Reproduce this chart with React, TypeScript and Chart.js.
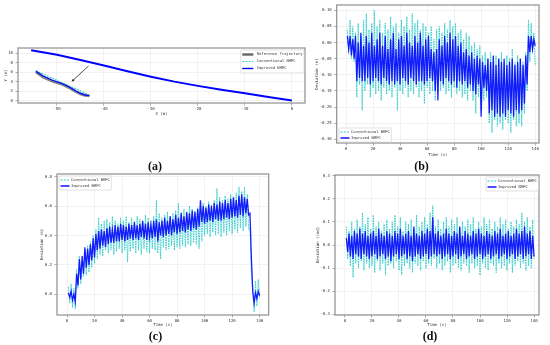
import React, { useEffect, useRef } from "react";
import { Chart, registerables } from "chart.js";
Chart.register(...registerables);

// ---------------- data ----------------
// (a) trajectory
const trajX = [-55.5, -50, -45, -40, -35, -30, -25, -20, -15, -10, -5, 0];
const trajImpY = [10.65, 9.7, 8.6, 7.4, 6.2, 5.05, 4.0, 3.1, 2.3, 1.52, 0.76, 0.0];
const insetX = [-54.5, -53, -51, -49, -47.5, -46, -45, -44, -43.1];
const insetRefY = [6.1, 5.0, 4.1, 3.5, 2.8, 1.9, 1.4, 1.1, 1.0];
const insetImpY = [6.2, 5.2, 4.3, 3.6, 2.9, 2.0, 1.5, 1.15, 1.0];
const insetConvX = [-54.5, -43.2];
const insetConvY = [6.3, 1.2];
const arrowX = [-43.3, -46.9];
const arrowY = [7.3, 4.0];
const aTicksX = [-50, -40, -30, -20, -10, 0];
const aTicksY = [0, 2, 4, 6, 8, 10];

// time samples (s)
const ts = [1, 3, 5, 7, 9, 11, 13, 15, 17, 19, 21, 23, 25, 27, 29, 31, 33, 35, 37, 39, 41, 43, 45, 47, 49, 51, 53, 55, 57, 59, 61, 63, 65, 67, 69, 71, 73, 75, 77, 79, 81, 83, 85, 87, 89, 91, 93, 95, 97, 99, 101, 103, 105, 107, 109, 111, 113, 115, 117, 119, 121, 123, 125, 127, 129, 131, 133, 135, 137, 139];
const timeTicks = [0, 20, 40, 60, 80, 100, 120, 140];

// (b) lateral deviation (m)
const bImpHi = [0.02, 0.02, 0.01, 0.02, 0.0, 0.03, -0.01, 0.02, 0.0, 0.03, -0.01, 0.01, 0.03, -0.01, 0.02, -0.02, 0.01, 0.03, -0.02, 0.01, 0.02, -0.01, 0.03, 0.0, -0.01, 0.02, 0.0, 0.03, -0.01, 0.01, 0.02, -0.02, -0.03, -0.02, 0.01, -0.01, 0.02, 0.0, 0.03, 0.01, 0.02, -0.01, 0.0, -0.03, -0.02, -0.04, -0.03, -0.05, -0.04, -0.05, -0.06, -0.07, -0.05, -0.06, -0.04, -0.07, -0.05, -0.06, -0.05, -0.07, -0.06, -0.05, -0.07, -0.06, -0.05, -0.07, -0.04, 0.02, 0.02, 0.01];
const bImpLo = [-0.02, -0.04, -0.05, -0.12, -0.11, -0.12, -0.12, -0.11, -0.13, -0.12, -0.11, -0.12, -0.13, -0.11, -0.12, -0.13, -0.12, -0.13, -0.12, -0.13, -0.11, -0.12, -0.13, -0.11, -0.12, -0.13, -0.12, -0.12, -0.13, -0.12, -0.11, -0.12, -0.15, -0.18, -0.12, -0.13, -0.11, -0.12, -0.13, -0.12, -0.14, -0.12, -0.13, -0.12, -0.14, -0.13, -0.15, -0.16, -0.13, -0.23, -0.14, -0.15, -0.22, -0.21, -0.23, -0.22, -0.23, -0.22, -0.23, -0.21, -0.22, -0.23, -0.21, -0.22, -0.21, -0.19, -0.13, -0.03, -0.02, -0.01];
const bConvHi = [0.04, 0.07, 0.05, 0.03, 0.06, 0.02, 0.07, 0.09, 0.04, 0.06, 0.10, 0.05, 0.07, 0.03, 0.06, 0.04, 0.08, 0.05, 0.06, 0.03, 0.07, 0.05, 0.08, 0.04, 0.09, 0.06, 0.07, 0.04, 0.06, 0.05, 0.03, 0.05, 0.01, 0.04, 0.05, 0.03, 0.06, 0.04, 0.07, 0.05, 0.06, 0.03, 0.04, 0.01, 0.03, 0.02, -0.01, 0.0, -0.02, -0.01, -0.04, -0.03, -0.05, -0.03, -0.06, -0.04, -0.05, -0.03, -0.06, -0.04, -0.05, -0.02, -0.06, -0.04, -0.05, -0.06, -0.03, 0.07, 0.06, 0.03];
const bConvLo = [-0.03, -0.05, -0.06, -0.17, -0.13, -0.21, -0.15, -0.13, -0.17, -0.14, -0.16, -0.15, -0.18, -0.14, -0.16, -0.15, -0.17, -0.14, -0.21, -0.15, -0.16, -0.14, -0.17, -0.15, -0.16, -0.14, -0.17, -0.15, -0.19, -0.14, -0.16, -0.15, -0.18, -0.13, -0.15, -0.14, -0.16, -0.15, -0.17, -0.14, -0.16, -0.15, -0.17, -0.16, -0.18, -0.15, -0.18, -0.22, -0.17, -0.21, -0.18, -0.17, -0.25, -0.28, -0.24, -0.26, -0.25, -0.27, -0.24, -0.25, -0.28, -0.24, -0.26, -0.25, -0.26, -0.22, -0.15, -0.06, -0.03, -0.07];
const bTicksY = [-0.3, -0.25, -0.2, -0.15, -0.1, -0.05, 0, 0.05, 0.1];

// (c) longitudinal deviation (m)
const cImpHi = [0.01, 0.02, 0.0, 0.14, 0.24, 0.26, 0.32, 0.31, 0.34, 0.38, 0.41, 0.43, 0.44, 0.43, 0.45, 0.46, 0.44, 0.47, 0.46, 0.48, 0.47, 0.46, 0.48, 0.47, 0.49, 0.47, 0.48, 0.50, 0.48, 0.49, 0.47, 0.50, 0.51, 0.49, 0.50, 0.52, 0.50, 0.53, 0.51, 0.54, 0.52, 0.55, 0.53, 0.56, 0.55, 0.57, 0.56, 0.58, 0.64, 0.60, 0.59, 0.61, 0.60, 0.62, 0.61, 0.63, 0.62, 0.64, 0.62, 0.65, 0.66, 0.64, 0.67, 0.68, 0.66, 0.65, 0.55, 0.02, 0.01, 0.02];
const cImpLo = [-0.02, -0.04, -0.05, 0.06, 0.10, 0.14, 0.18, 0.20, 0.23, 0.25, 0.30, 0.31, 0.33, 0.32, 0.34, 0.35, 0.35, 0.36, 0.36, 0.37, 0.36, 0.37, 0.38, 0.37, 0.38, 0.37, 0.39, 0.38, 0.37, 0.39, 0.38, 0.39, 0.36, 0.40, 0.39, 0.40, 0.41, 0.40, 0.42, 0.41, 0.42, 0.43, 0.42, 0.44, 0.43, 0.45, 0.44, 0.46, 0.49, 0.48, 0.49, 0.50, 0.49, 0.51, 0.50, 0.50, 0.51, 0.52, 0.51, 0.52, 0.53, 0.52, 0.54, 0.53, 0.55, 0.54, 0.25, -0.06, -0.03, -0.01];
const cConvHi = [0.05, 0.07, 0.04, 0.17, 0.26, 0.22, 0.30, 0.33, 0.36, 0.40, 0.44, 0.52, 0.48, 0.50, 0.51, 0.49, 0.53, 0.50, 0.48, 0.52, 0.50, 0.53, 0.49, 0.52, 0.50, 0.53, 0.51, 0.49, 0.54, 0.52, 0.50, 0.53, 0.64, 0.55, 0.52, 0.54, 0.56, 0.53, 0.55, 0.57, 0.62, 0.56, 0.58, 0.55, 0.60, 0.58, 0.57, 0.59, 0.58, 0.62, 0.60, 0.63, 0.61, 0.64, 0.72, 0.66, 0.64, 0.67, 0.65, 0.68, 0.66, 0.69, 0.73, 0.70, 0.73, 0.68, 0.45, 0.03, 0.09, 0.10];
const cConvLo = [-0.06, -0.09, -0.10, 0.04, 0.07, 0.12, 0.13, 0.15, 0.18, 0.21, 0.24, 0.27, 0.26, 0.30, 0.28, 0.30, 0.27, 0.29, 0.31, 0.28, 0.30, 0.22, 0.29, 0.31, 0.28, 0.30, 0.27, 0.31, 0.29, 0.28, 0.31, 0.30, 0.28, 0.24, 0.32, 0.30, 0.31, 0.33, 0.30, 0.32, 0.31, 0.33, 0.32, 0.34, 0.33, 0.35, 0.34, 0.31, 0.36, 0.40, 0.41, 0.39, 0.42, 0.40, 0.41, 0.39, 0.42, 0.40, 0.43, 0.41, 0.44, 0.42, 0.45, 0.43, 0.46, 0.44, 0.15, -0.12, -0.08, -0.02];
const cTicksY = [0, 0.2, 0.4, 0.6, 0.8];

// (d) heading deviation (rad)
const dImpHi = [0.03, 0.05, 0.04, 0.06, 0.05, 0.07, 0.05, 0.06, 0.04, 0.05, 0.06, 0.04, 0.07, 0.05, 0.04, 0.06, 0.05, 0.04, 0.06, 0.05, 0.07, 0.04, 0.05, 0.06, 0.04, 0.08, 0.05, 0.04, 0.06, 0.05, 0.07, 0.06, 0.12, 0.05, 0.06, 0.04, 0.05, 0.07, 0.05, 0.04, 0.06, 0.05, 0.08, 0.04, 0.06, 0.05, 0.04, 0.06, 0.05, 0.07, 0.05, 0.04, 0.06, 0.05, 0.04, 0.06, 0.05, 0.07, 0.04, 0.05, 0.06, 0.04, 0.05, 0.07, 0.05, 0.06, 0.08, 0.05, 0.06, 0.04];
const dImpLo = [-0.03, -0.05, -0.06, -0.04, -0.05, -0.06, -0.04, -0.05, -0.06, -0.05, -0.04, -0.06, -0.05, -0.04, -0.06, -0.05, -0.07, -0.05, -0.04, -0.06, -0.05, -0.04, -0.06, -0.05, -0.07, -0.05, -0.04, -0.06, -0.05, -0.04, -0.06, -0.05, -0.04, -0.05, -0.04, -0.06, -0.05, -0.04, -0.06, -0.05, -0.04, -0.06, -0.05, -0.04, -0.06, -0.05, -0.04, -0.06, -0.05, -0.04, -0.06, -0.05, -0.04, -0.06, -0.05, -0.04, -0.06, -0.05, -0.04, -0.06, -0.05, -0.04, -0.06, -0.05, -0.04, -0.06, -0.05, -0.04, -0.06, -0.05];
const dConvHi = [0.08, 0.06, 0.10, 0.07, 0.11, 0.08, 0.14, 0.09, 0.12, 0.07, 0.13, 0.08, 0.10, 0.06, 0.09, 0.11, 0.07, 0.10, 0.13, 0.08, 0.12, 0.06, 0.10, 0.09, 0.11, 0.07, 0.13, 0.08, 0.10, 0.12, 0.09, 0.14, 0.17, 0.08, 0.11, 0.07, 0.10, 0.12, 0.08, 0.11, 0.09, 0.12, 0.07, 0.10, 0.08, 0.11, 0.09, 0.12, 0.07, 0.10, 0.08, 0.12, 0.09, 0.11, 0.07, 0.10, 0.08, 0.12, 0.09, 0.11, 0.07, 0.10, 0.08, 0.11, 0.09, 0.14, 0.10, 0.12, 0.08, 0.11];
const dConvLo = [-0.06, -0.09, -0.14, -0.08, -0.10, -0.07, -0.11, -0.08, -0.10, -0.09, -0.12, -0.07, -0.11, -0.08, -0.13, -0.09, -0.08, -0.10, -0.07, -0.11, -0.13, -0.09, -0.08, -0.10, -0.12, -0.08, -0.09, -0.11, -0.07, -0.10, -0.08, -0.09, -0.06, -0.10, -0.08, -0.11, -0.09, -0.07, -0.12, -0.09, -0.08, -0.10, -0.11, -0.08, -0.09, -0.12, -0.08, -0.10, -0.09, -0.13, -0.08, -0.10, -0.11, -0.08, -0.09, -0.12, -0.08, -0.10, -0.09, -0.11, -0.08, -0.12, -0.09, -0.07, -0.10, -0.08, -0.11, -0.09, -0.10, -0.06];
const dTicksY = [-0.3, -0.2, -0.1, 0, 0.1, 0.2, 0.3];

// ---------------- styling ----------------
const FF = "'DejaVu Sans Mono', monospace";
const FS = 4;
const LFS = 3.8;
const CONV = "#2ccaca";
const IMP = "rgba(0,0,255,0.88)";
const REF = "rgba(95,95,95,0.75)";

type Frame = { x: number; y: number; w: number; h: number; left: number; top: number; right: number; bottom: number; yTitleX: number; xTitleY: number };
type LItem = { label: string; color: string; width: number; dash: number[] };

const frames: Record<string, Frame> = {
  a: { x: 0, y: 40, w: 312, h: 80, left: 18, top: 8, right: 305, bottom: 63, yTitleX: 6, xTitleY: 74 },
  b: { x: 300, y: 0, w: 250, h: 165, left: 36.7, top: 5, right: 239, bottom: 143, yTitleX: 17, xTitleY: 155 },
  c: { x: 0, y: 165, w: 290, h: 172, left: 57, top: 9, right: 268.7, bottom: 150, yTitleX: 42, xTitleY: 160 },
  d: { x: 300, y: 165, w: 250, h: 172, left: 35, top: 10, right: 239, bottom: 150, yTitleX: 18, xTitleY: 160 },
};

function pts(xs: number[], ys: number[]) {
  return xs.map((x, i) => ({ x, y: ys[i] }));
}
function zigzag(t: number[], hi: number[], lo: number[]) {
  const out: { x: number; y: number }[] = [];
  t.forEach((tt, i) => {
    out.push({ x: tt, y: hi[i] });
    out.push({ x: tt + 1, y: lo[i] });
  });
  return out;
}

const framePlugin = {
  id: "frameBox",
  afterDraw(chart: any) {
    const { ctx, chartArea: a } = chart;
    ctx.save();
    ctx.strokeStyle = "#8f8f8f";
    ctx.lineWidth = 1.2;
    ctx.strokeRect(a.left, a.top, a.right - a.left, a.bottom - a.top);
    ctx.restore();
  },
};

function legendPlugin(corner: string, dx: number, dy: number, items: LItem[], rowH: number, lineLen: number, gap: number) {
  return {
    id: "boxLegend",
    afterDraw(chart: any) {
      const { ctx, chartArea: a } = chart;
      ctx.save();
      ctx.font = `${LFS}px ${FF}`;
      const tw = Math.max(...items.map((i) => ctx.measureText(i.label).width));
      const pad = 1.5;
      const w = pad + lineLen + gap + tw + pad;
      const h = items.length * rowH + 2;
      const x = corner[1] === "l" ? a.left + dx : a.right - dx - w;
      const y = corner[0] === "u" ? a.top + dy : a.bottom - dy - h;
      ctx.fillStyle = "rgba(255,255,255,0.85)";
      ctx.strokeStyle = "#cfcfcf";
      ctx.lineWidth = 0.6;
      ctx.beginPath();
      (ctx as any).roundRect(x, y, w, h, 1);
      ctx.fill();
      ctx.stroke();
      items.forEach((it, k) => {
        const cy = y + 1 + rowH * (k + 0.5);
        ctx.beginPath();
        ctx.strokeStyle = it.color;
        ctx.lineWidth = it.width;
        ctx.setLineDash(it.dash);
        ctx.moveTo(x + pad, cy);
        ctx.lineTo(x + pad + lineLen, cy);
        ctx.stroke();
        ctx.setLineDash([]);
        ctx.fillStyle = "#333";
        ctx.textBaseline = "middle";
        ctx.textAlign = "left";
        ctx.fillText(it.label, x + pad + lineLen + gap, cy);
      });
      ctx.restore();
    },
  };
}

const arrowPlugin = {
  id: "arrow",
  afterDatasetsDraw(chart: any) {
    const { ctx, scales } = chart;
    const x1 = scales.x.getPixelForValue(arrowX[0]);
    const y1 = scales.y.getPixelForValue(arrowY[0]);
    const x2 = scales.x.getPixelForValue(arrowX[1]);
    const y2 = scales.y.getPixelForValue(arrowY[1]);
    const ang = Math.atan2(y2 - y1, x2 - x1);
    const hl = 3.2;
    ctx.save();
    ctx.strokeStyle = "#222";
    ctx.fillStyle = "#222";
    ctx.lineWidth = 0.8;
    ctx.beginPath();
    ctx.moveTo(x1, y1);
    ctx.lineTo(x2 - Math.cos(ang) * hl * 0.6, y2 - Math.sin(ang) * hl * 0.6);
    ctx.stroke();
    ctx.beginPath();
    ctx.moveTo(x2, y2);
    ctx.lineTo(x2 - hl * Math.cos(ang - 0.4), y2 - hl * Math.sin(ang - 0.4));
    ctx.lineTo(x2 - hl * Math.cos(ang + 0.4), y2 - hl * Math.sin(ang + 0.4));
    ctx.closePath();
    ctx.fill();
    ctx.restore();
  },
};

function makeOptions(fr: Frame, xr: number[], yr: number[], xTicks: number[], yTicks: number[], xDec: number, yDec: number, xTitle: string, yTitle: string) {
  const lh = FS * 1.2;
  const padL = fr.yTitleX - lh / 2;
  const boxBottom = fr.xTitleY + lh / 2;
  const font = { family: FF, size: FS };
  const grid = { color: "#e9e9e9", lineWidth: 0.6, tickLength: 2.5, tickColor: "#777", tickWidth: 0.6 };
  return {
    responsive: false,
    maintainAspectRatio: false,
    animation: false,
    events: [],
    layout: { padding: { left: padL, top: fr.top, right: fr.w - fr.right, bottom: fr.h - boxBottom } },
    plugins: { legend: { display: false }, tooltip: { enabled: false } },
    elements: { point: { radius: 0 }, line: { tension: 0 } },
    scales: {
      x: {
        type: "linear",
        min: xr[0],
        max: xr[1],
        border: { display: false },
        grid,
        ticks: { font, color: "#333", padding: 1.2, maxRotation: 0, autoSkip: false, callback: (v: number) => v.toFixed(xDec) },
        afterBuildTicks: (s: any) => { s.ticks = xTicks.map((v) => ({ value: v })); },
        afterFit: (s: any) => { s.height = boxBottom - fr.bottom; },
        title: { display: true, text: xTitle, font, color: "#333", padding: 0 },
      },
      y: {
        type: "linear",
        min: yr[0],
        max: yr[1],
        border: { display: false },
        grid,
        ticks: { font, color: "#333", padding: 2.5, autoSkip: false, callback: (v: number) => v.toFixed(yDec) },
        afterBuildTicks: (s: any) => { s.ticks = yTicks.map((v) => ({ value: v })); },
        afterFit: (s: any) => { s.width = fr.left - padL; },
        title: { display: true, text: yTitle, font, color: "#333", padding: 0 },
      },
    },
  };
}

const convItem: LItem = { label: "Conventional NMPC", color: CONV, width: 1, dash: [2, 1.2] };
const impItem: LItem = { label: "Improved NMPC", color: "#0000ff", width: 1.4, dash: [] };
const refItem: LItem = { label: "Reference Trajectory", color: "#666", width: 2.4, dash: [] };

function tsDatasets(convHi: number[], convLo: number[], impHi: number[], impLo: number[]) {
  return [
    { label: "Conventional NMPC", data: zigzag(ts, convHi, convLo), borderColor: CONV, borderWidth: 0.9, borderDash: [1.6, 0.9], order: 2, pointRadius: 0 },
    { label: "Improved NMPC", data: zigzag(ts, impHi, impLo), borderColor: IMP, borderWidth: 1.3, order: 1, pointRadius: 0 },
  ];
}

function buildConfigs(): Record<string, any> {
  return {
    a: {
      type: "line",
      data: {
        datasets: [
          { label: "Improved NMPC", data: pts(trajX, trajImpY), borderColor: "#0000ff", borderWidth: 2, order: 1 },
          { label: "Reference Trajectory", data: pts(insetX, insetRefY), borderColor: REF, borderWidth: 3, order: 3 },
          { label: "Conventional NMPC", data: pts(insetConvX, insetConvY), borderColor: CONV, borderWidth: 1.1, borderDash: [2, 1], order: 2 },
          { label: "Improved NMPC inset", data: pts(insetX, insetImpY), borderColor: "#0000ff", borderWidth: 1.2, order: 1 },
        ],
      },
      options: makeOptions(frames.a, [-58.3, 2.8], [-0.53, 11.13], aTicksX, aTicksY, 0, 0, "X (m)", "Y (m)"),
      plugins: [arrowPlugin, framePlugin, legendPlugin("ur", 1, 2, [refItem, convItem, impItem], 7, 11, 3.5)],
    },
    b: {
      type: "line",
      data: { datasets: tsDatasets(bConvHi, bConvLo, bImpHi, bImpLo) },
      options: makeOptions(frames.b, [-6.9, 142.8], [-0.3115, 0.1165], timeTicks, bTicksY, 0, 2, "Time (s)", "Deviation (m)"),
      plugins: [framePlugin, legendPlugin("ll", 2.3, 1, [convItem, impItem], 6, 9, 1.5)],
    },
    c: {
      type: "line",
      data: { datasets: tsDatasets(cConvHi, cConvLo, cImpHi, cImpLo) },
      options: makeOptions(frames.c, [-7.27, 146.6], [-0.141, 0.818], timeTicks, cTicksY, 0, 1, "Time (s)", "Deviation (m)"),
      plugins: [framePlugin, legendPlugin("ul", 2, 2, [convItem, impItem], 6, 9, 1.5)],
    },
    d: {
      type: "line",
      data: { datasets: tsDatasets(dConvHi, dConvLo, dImpHi, dImpLo) },
      options: makeOptions(frames.d, [-7.4, 143.7], [-0.303, 0.303], timeTicks, dTicksY, 0, 1, "Time (s)", "Deviation (rad)"),
      plugins: [framePlugin, legendPlugin("ur", 0.6, 2, [convItem, impItem], 6, 9, 1.5)],
    },
  };
}

const captions = [
  { text: "(a)", x: 155, y: 166 },
  { text: "(b)", x: 421.5, y: 166 },
  { text: "(c)", x: 155.5, y: 336 },
  { text: "(d)", x: 430, y: 336 },
];

export default function App() {
  const refs = {
    a: useRef<HTMLCanvasElement>(null),
    b: useRef<HTMLCanvasElement>(null),
    c: useRef<HTMLCanvasElement>(null),
    d: useRef<HTMLCanvasElement>(null),
  } as Record<string, React.RefObject<HTMLCanvasElement>>;

  useEffect(() => {
    const cfgs = buildConfigs();
    const charts: Chart[] = [];
    Object.keys(cfgs).forEach((k) => {
      const cv = refs[k].current;
      if (cv) charts.push(new Chart(cv, cfgs[k]));
    });
    return () => charts.forEach((c) => c.destroy());
  }, []);

  return (
    <div style={{ position: "absolute", left: 0, top: 0, width: 550, height: 345, background: "#fff", overflow: "hidden" }}>
      {Object.keys(frames).map((k) => {
        const f = frames[k];
        return (
          <canvas
            key={k}
            ref={refs[k]}
            width={f.w}
            height={f.h}
            style={{ position: "absolute", left: f.x, top: f.y, width: f.w, height: f.h }}
          />
        );
      })}
      {captions.map((c) => (
        <div
          key={c.text}
          style={{
            position: "absolute",
            left: c.x - 20,
            top: c.y - 8,
            width: 40,
            height: 16,
            lineHeight: "16px",
            textAlign: "center",
            fontFamily: "'Liberation Serif', serif",
            fontWeight: "bold",
            fontSize: 12,
            color: "#111",
          }}
        >
          {c.text}
        </div>
      ))}
    </div>
  );
}
